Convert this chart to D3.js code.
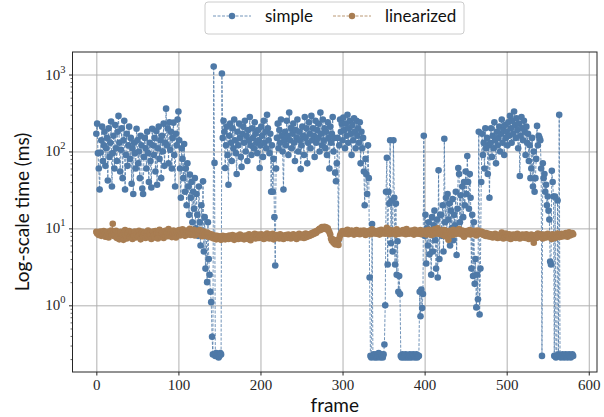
<!DOCTYPE html>
<html>
<head>
<meta charset="utf-8">
<script src="https://cdn.jsdelivr.net/npm/d3@7"></script>
<style>
  body { margin: 0; background: #fff; }
</style>
</head>
<body>
<svg id="chart" width="604" height="417"></svg>
<script>
// per-frame times (ms)
var simpleMs = [
  170, 230, 95, 60, 32, 97, 140, 210, 75, 120,
  180, 65, 110, 150, 42, 200, 85, 130, 245, 35,
  95, 160, 60, 220, 110, 75, 180, 290, 130, 55,
  105, 200, 45, 140, 250, 32, 90, 170, 65, 120,
  210, 80, 150, 38, 110, 28, 130, 95, 60, 197,
  140, 70, 100, 45, 160, 120, 33, 28, 85, 150,
  110, 60, 180, 95, 40, 130, 75, 34, 197, 120,
  90, 150, 55, 185, 37, 110, 210, 80, 140, 45,
  160, 100, 230, 65, 130, 360, 120, 200, 70, 240,
  105, 180, 60, 150, 237, 90, 35, 170, 120, 260,
  330, 140, 60, 25, 110, 80, 45, 125, 30, 60,
  20, 70, 35, 15, 50, 25, 40, 12, 30, 18,
  45, 10, 28, 15, 8, 35, 12, 6, 20, 9,
  41, 5, 14, 3, 8, 2.0, 12, 4, 2.5, 1.5,
  1.1, 0.39, 0.23, 1270, 71, 0.22, 0.24, 0.22, 0.23, 0.21,
  0.22, 0.24, 0.23, 1030, 150, 250, 180, 61, 120, 210,
  90, 37, 160, 230, 130, 75, 200, 110, 260, 140,
  95, 51, 180, 120, 230, 150, 85, 63, 170, 210,
  130, 250, 100, 160, 75, 190, 140, 280, 120, 90,
  200, 150, 110, 240, 170, 130, 95, 190, 140, 61,
  120, 210, 160, 85, 250, 130, 180, 110, 300, 200,
  140, 95, 170, 30, 120, 30, 80, 14, 3.3, 60,
  150, 230, 110, 190, 130, 260, 160, 100, 32, 140,
  180, 120, 250, 160, 90, 320, 140, 200, 110, 170,
  230, 130, 75, 190, 150, 260, 100, 180, 140, 59,
  120, 210, 160, 90, 280, 150, 200, 70, 130, 240,
  170, 110, 290, 140, 200, 160, 85, 250, 130, 190,
  150, 230, 100, 320, 170, 120, 260, 140, 200, 110,
  180, 90, 240, 150, 60, 210, 130, 170, 280, 100,
  150, 53, 41, 70, 150, 7, 120, 260, 180, 230,
  140, 275, 190, 110, 230, 160, 300, 130, 200, 250,
  170, 90, 220, 140, 270, 180, 110, 250, 160, 200,
  130, 240, 70, 180, 110, 150, 55, 20, 80, 51,
  28, 120, 45, 2.3, 0.22, 0.21, 11.4, 0.22, 0.23, 0.21,
  0.22, 0.23, 0.21, 0.22, 0.24, 0.22, 0.21, 0.23, 0.22, 0.21,
  0.23, 0.31, 1.0, 30, 83, 3.4, 30, 21, 140, 6.4,
  23, 5, 140, 25, 3.4, 21, 2.5, 6.8, 1.5, 2.4,
  1.4, 0.22, 0.21, 0.23, 0.22, 0.21, 0.22, 0.23, 0.21, 0.22,
  0.22, 0.21, 0.23, 0.22, 0.21, 0.22, 0.23, 0.22, 0.21, 0.22,
  0.23, 0.21, 0.22, 0.22, 1.5, 0.72, 1.6, 0.92, 1.4, 160,
  8, 15, 3.5, 10, 6, 12, 4.6, 9, 2.5, 14,
  5, 11, 17, 7, 3, 13, 2.3, 57, 4, 15,
  15, 8, 20, 5, 146, 12, 25, 9, 28, 13,
  21, 6, 17, 10, 24, 7, 15, 11, 30, 4.5,
  18, 61, 51, 12, 27, 9, 35, 14, 40, 20,
  55, 28, 87, 40, 18, 51, 25, 3, 15, 2.4,
  12, 1.9, 4, 0.94, 2.5, 1.2, 180, 0.76, 3, 40,
  170, 90, 130, 60, 200, 110, 150, 51, 120, 25,
  130, 200, 85, 160, 110, 240, 140, 70, 180, 120,
  150, 210, 100, 170, 260, 130, 190, 90, 220, 150,
  180, 120, 240, 160, 290, 200, 130, 250, 170, 330,
  220, 150, 270, 190, 110, 230, 48, 160, 280, 200,
  140, 250, 180, 90, 210, 130, 170, 75, 120, 45,
  60, 150, 35, 100, 30, 45, 80, 215, 120, 160,
  150, 140, 60, 0.22, 70, 45, 51, 30, 37, 20,
  26, 17, 13, 3.7, 3.4, 56, 40, 26, 0.22, 26,
  0.21, 0.22, 23, 0.23, 300, 0.22, 0.21, 0.22, 0.23, 0.22,
  0.21, 0.22, 0.23, 0.22, 0.21, 0.22, 0.23, 0.22, 0.21, 0.22,
  0.23, 0.22
];

var linearizedMs = [
  9.0, 8.6, 8.9, 8.2, 8.5, 9.1, 8.0, 8.7, 8.3, 9.2,
  8.4, 7.8, 8.8, 8.1, 9.0, 7.6, 8.5, 8.9, 9.4, 8.2,
  11.5, 8.7, 7.9, 8.4, 9.3, 7.5, 8.2, 8.8, 7.2, 8.6,
  9.0, 7.8, 8.3, 7.1, 8.7, 9.5, 8.0, 7.4, 8.6, 8.1,
  9.2, 7.7, 8.4, 8.9, 7.3, 8.5, 8.0, 9.1, 7.6, 8.3,
  8.8, 7.9, 9.3, 8.2, 7.2, 8.6, 9.0, 7.8, 8.4, 8.7,
  7.5, 8.9, 8.1, 9.4, 7.7, 8.3, 8.8, 7.3, 8.5, 9.1,
  8.0, 7.6, 9.2, 8.4, 8.7, 7.4, 8.9, 9.6, 8.1, 7.8,
  8.6, 9.0, 7.5, 8.3, 9.3, 8.0, 8.7, 7.9, 9.8, 8.4,
  8.2, 9.1, 7.7, 8.6, 9.4, 8.0, 8.8, 7.6, 9.2, 8.5,
  8.9, 9.5, 8.1, 9.0, 8.4, 9.7, 8.6, 9.2, 8.0, 8.8,
  9.4, 8.3, 9.1, 8.7, 9.9, 8.2, 8.9, 9.3, 8.5, 9.6,
  8.1, 8.8, 9.2, 8.4, 9.0, 8.6, 9.5, 8.3, 8.9, 7.9,
  8.7, 9.1, 8.2, 8.6, 8.0, 8.8, 8.4, 7.8, 8.5, 8.1,
  7.6, 8.3, 7.9, 7.4, 8.1, 7.7, 7.2, 8.0, 7.5, 7.9,
  7.3, 7.8, 7.1, 7.6, 8.0, 7.4, 7.7, 7.2, 7.9, 7.5,
  7.8, 7.3, 8.1, 7.6, 7.9, 7.4, 8.2, 7.7, 7.1, 7.8,
  7.5, 8.0, 7.6, 7.3, 7.9, 8.3, 7.7, 7.4, 8.0, 7.6,
  7.2, 7.8, 8.1, 7.5, 7.9, 7.3, 8.4, 7.7, 7.0, 7.8,
  8.2, 7.6, 7.9, 8.5, 7.4, 8.0, 7.7, 8.3, 7.5, 8.1,
  7.8, 8.4, 7.6, 8.0, 7.3, 8.2, 7.9, 7.5, 8.6, 7.7,
  8.0, 7.4, 8.3, 7.8, 7.6, 8.5, 7.2, 8.1, 7.9, 7.5,
  8.2, 7.7, 8.0, 7.4, 8.4, 7.8, 7.6, 8.1, 7.3, 7.9,
  7.6, 8.2, 7.8, 7.5, 8.3, 7.7, 8.0, 7.4, 8.1, 7.9,
  8.4, 7.6, 8.0, 7.8, 7.3, 8.2, 7.7, 8.5, 7.9, 7.6,
  8.1, 7.8, 8.3, 7.5, 8.0, 8.6, 7.7, 8.2, 7.9, 8.4,
  8.0, 8.5, 8.2, 8.7, 8.4, 8.9, 8.6, 9.1, 8.8, 9.3,
  9.3, 9.6, 9.9, 9.5, 10.1, 10.4, 9.8, 10.2, 10.5, 9.9,
  10.3, 9.7, 10.0, 9.4, 8.9, 8.3, 7.4, 6.9, 7.2, 6.5,
  6.8, 6.2, 7.0, 6.4, 6.9, 6.1, 7.4, 8.1, 8.5, 8.9,
  9.2, 8.7, 9.0, 8.5, 9.3, 8.8, 9.6, 8.4, 9.1, 8.9,
  8.6, 9.4, 8.8, 9.0, 8.3, 9.2, 8.7, 9.5, 8.5, 9.1,
  8.9, 8.4, 9.3, 8.7, 9.0, 8.6, 9.4, 8.8, 8.2, 9.1,
  8.5, 9.0, 8.7, 9.3, 8.4, 8.9, 9.7, 8.6, 9.1, 8.8,
  9.2, 8.5, 9.0, 8.7, 9.4, 8.3, 8.9, 9.6, 8.6, 9.1,
  8.8, 9.3, 8.5, 9.0, 10.2, 8.7, 9.2, 8.4, 9.5, 8.9,
  9.1, 8.6, 9.4, 8.8, 9.0, 8.3, 9.7, 8.7, 9.2, 8.5,
  9.0, 8.8, 9.3, 8.6, 9.5, 8.9, 9.1, 8.4, 9.8, 8.7,
  9.2, 8.5, 9.0, 8.8, 9.4, 8.6, 9.1, 8.3, 9.6, 8.9,
  8.7, 9.3, 8.5, 9.0, 8.8, 9.5, 8.4, 9.2, 8.6, 9.0,
  8.8, 9.4, 8.3, 9.1, 8.7, 9.6, 8.5, 9.0, 8.2, 9.3,
  8.9, 8.4, 9.7, 8.6, 9.2, 8.8, 10.0, 8.5, 9.1, 8.7,
  9.4, 8.3, 9.0, 8.6, 9.5, 7.9, 8.8, 9.2, 8.4, 7.1,
  8.7, 9.3, 8.5, 9.0, 8.2, 9.6, 8.8, 8.4, 9.1, 8.6,
  9.3, 8.7, 9.8, 8.5, 9.0, 8.3, 9.4, 8.8, 7.8, 9.1,
  8.6, 9.2, 8.4, 9.0, 8.8, 9.5, 8.3, 8.9, 9.2, 8.5,
  9.0, 8.6, 9.3, 8.1, 8.8, 9.4, 8.5, 9.0, 8.7, 9.1,
  8.4, 8.9, 8.2, 8.6, 8.0, 8.7, 8.3, 7.9, 8.5, 8.1,
  7.8, 8.4, 8.0, 7.6, 8.2, 7.9, 8.5, 7.7, 8.1, 7.5,
  8.0, 7.7, 8.3, 7.6, 8.8, 7.9, 7.4, 8.2, 7.8, 8.6,
  7.7, 8.1, 7.5, 8.4, 7.9, 7.3, 8.0, 7.6, 8.3, 7.8,
  8.2, 7.5, 7.9, 8.5, 7.7, 8.1, 7.4, 8.0, 7.8, 8.3,
  7.6, 8.2, 7.9, 7.5, 8.4, 7.8, 8.1, 7.3, 8.0, 7.7,
  8.3, 7.6, 8.0, 6.5, 7.8, 8.2, 7.5, 7.9, 8.6, 7.7,
  8.0, 8.4, 7.8, 8.1, 7.4, 8.3, 7.9, 7.6, 8.2, 7.7,
  8.5, 7.9, 8.2, 7.6, 8.0, 7.3, 8.4, 7.8, 8.1, 7.5,
  8.2, 7.9, 8.6, 8.0, 7.7, 8.3, 7.8, 8.5, 8.1, 7.9,
  8.4, 8.0, 8.7, 8.2, 7.8, 8.5, 8.9, 8.1, 8.6, 8.3,
  8.7, 8.4
];

var seriesNames = ["simple", "linearized"];
var seriesColors = ["#4e79a7", "#a87d52"];
var xTicks = [0, 100, 200, 300, 400, 500, 600];
var yTicks = [1, 10, 100, 1000];

var plotLeft = 72.5, plotRight = 597, plotTop = 52, plotBottom = 372;
var n = simpleMs.length;
var serifFont = "'Liberation Serif', 'DejaVu Serif', serif";
var sansFont = "Lato, 'Open Sans', sans-serif";

var svg = d3.select("#chart");

// x: frame index with matplotlib-like 5% margins
var xScale = d3.scaleLinear()
    .domain([-0.05 * (n - 1), 1.05 * (n - 1)])
    .range([plotLeft, plotRight]);

// y: log scale, 5% margin in log space
var allValues = simpleMs.concat(linearizedMs);
var lo = Math.log10(d3.min(allValues)), hi = Math.log10(d3.max(allValues));
var pad = 0.05 * (hi - lo);
var yScale = d3.scaleLog()
    .domain([Math.pow(10, lo - pad), Math.pow(10, hi + pad)])
    .range([plotBottom, plotTop]);

// grid
svg.append("g")
    .attr("transform", "translate(0," + plotBottom + ")")
    .call(d3.axisBottom(xScale).tickValues(xTicks).tickSize(-(plotBottom - plotTop)).tickFormat(""))
    .call(function(g) { g.select(".domain").remove(); })
    .selectAll("line").attr("stroke", "#b0b0b0").attr("stroke-width", 1);

svg.append("g")
    .attr("transform", "translate(" + plotLeft + ",0)")
    .call(d3.axisLeft(yScale).tickValues(yTicks).tickSize(-(plotRight - plotLeft)).tickFormat(""))
    .call(function(g) { g.select(".domain").remove(); })
    .selectAll("line").attr("stroke", "#b0b0b0").attr("stroke-width", 1);

// series: dashed line with round markers
var datasets = [simpleMs, linearizedMs];
var line = d3.line()
    .x(function(d, i) { return xScale(i); })
    .y(function(d) { return yScale(d); });

datasets.forEach(function(values, k) {
    var g = svg.append("g");
    g.append("path")
        .datum(values)
        .attr("d", line)
        .attr("fill", "none")
        .attr("stroke", seriesColors[k])
        .attr("stroke-width", 0.8)
        .attr("stroke-dasharray", "3,1.5");
    g.selectAll("circle")
        .data(values)
        .enter()
        .append("circle")
        .attr("cx", function(d, i) { return xScale(i); })
        .attr("cy", function(d) { return yScale(d); })
        .attr("r", 3.3)
        .attr("fill", seriesColors[k]);
});

// frame (spines)
svg.append("rect")
    .attr("x", plotLeft).attr("y", plotTop)
    .attr("width", plotRight - plotLeft).attr("height", plotBottom - plotTop)
    .attr("fill", "none").attr("stroke", "#262626").attr("stroke-width", 1);

// x axis
var xAxisG = svg.append("g")
    .attr("transform", "translate(0," + plotBottom + ")")
    .call(d3.axisBottom(xScale).tickValues(xTicks).tickSize(3.5).tickPadding(3.5));
xAxisG.select(".domain").remove();
xAxisG.selectAll("line").attr("stroke", "#262626");
xAxisG.selectAll("text")
    .attr("font-family", serifFont).attr("font-size", 15).attr("fill", "#262626");

// y axis: major + minor ticks
var yAxisG = svg.append("g")
    .attr("transform", "translate(" + plotLeft + ",0)")
    .call(d3.axisLeft(yScale).tickValues(yTicks).tickSize(3.5).tickFormat(""));
yAxisG.select(".domain").remove();
yAxisG.selectAll("line").attr("stroke", "#262626");

var yDomain = yScale.domain();
var minorTicks = [];
for (var e = -2; e <= 3; e++) {
    for (var m = 2; m <= 9; m++) {
        var v = m * Math.pow(10, e);
        if (v >= yDomain[0] && v <= yDomain[1]) minorTicks.push(v);
    }
}
var yMinorG = svg.append("g")
    .attr("transform", "translate(" + plotLeft + ",0)")
    .call(d3.axisLeft(yScale).tickValues(minorTicks).tickSize(2).tickFormat(""));
yMinorG.select(".domain").remove();
yMinorG.selectAll("line").attr("stroke", "#262626").attr("stroke-width", 0.7);

// y tick labels as 10^k
var yLabels = svg.append("g");
yTicks.forEach(function(t) {
    var txt = yLabels.append("text")
        .attr("x", plotLeft - 7)
        .attr("y", yScale(t) + 5)
        .attr("text-anchor", "end")
        .attr("font-family", serifFont)
        .attr("fill", "#262626");
    txt.append("tspan").attr("font-size", 15).text("10");
    txt.append("tspan").attr("font-size", 10.5).attr("dy", -7).text(Math.round(Math.log10(t)));
});

// axis titles
svg.append("text")
    .attr("x", (plotLeft + plotRight) / 2)
    .attr("y", 412)
    .attr("text-anchor", "middle")
    .attr("font-family", sansFont)
    .attr("font-size", 19)
    .attr("fill", "#111")
    .text("frame");

svg.append("text")
    .attr("transform", "translate(29," + ((plotTop + plotBottom) / 2) + ") rotate(-90)")
    .attr("text-anchor", "middle")
    .attr("font-family", sansFont)
    .attr("font-size", 19)
    .attr("fill", "#111")
    .text("Log-scale time (ms)");

// legend
var legend = svg.append("g");
legend.append("rect")
    .attr("x", 205).attr("y", 2)
    .attr("width", 259).attr("height", 32)
    .attr("rx", 3)
    .attr("fill", "#fff").attr("fill-opacity", 0.8)
    .attr("stroke", "#cccccc").attr("stroke-width", 1);

var legendX = [213, 333];
seriesNames.forEach(function(name, k) {
    var x0 = legendX[k];
    legend.append("line")
        .attr("x1", x0).attr("x2", x0 + 38)
        .attr("y1", 16).attr("y2", 16)
        .attr("stroke", seriesColors[k])
        .attr("stroke-width", 0.8)
        .attr("stroke-dasharray", "3,1.5");
    legend.append("circle")
        .attr("cx", x0 + 19).attr("cy", 16)
        .attr("r", 3.2)
        .attr("fill", seriesColors[k]);
    legend.append("text")
        .attr("x", x0 + 52)
        .attr("y", 22)
        .attr("font-family", sansFont)
        .attr("font-size", 17)
        .attr("fill", "#111")
        .text(name);
});
</script>
</body>
</html>
